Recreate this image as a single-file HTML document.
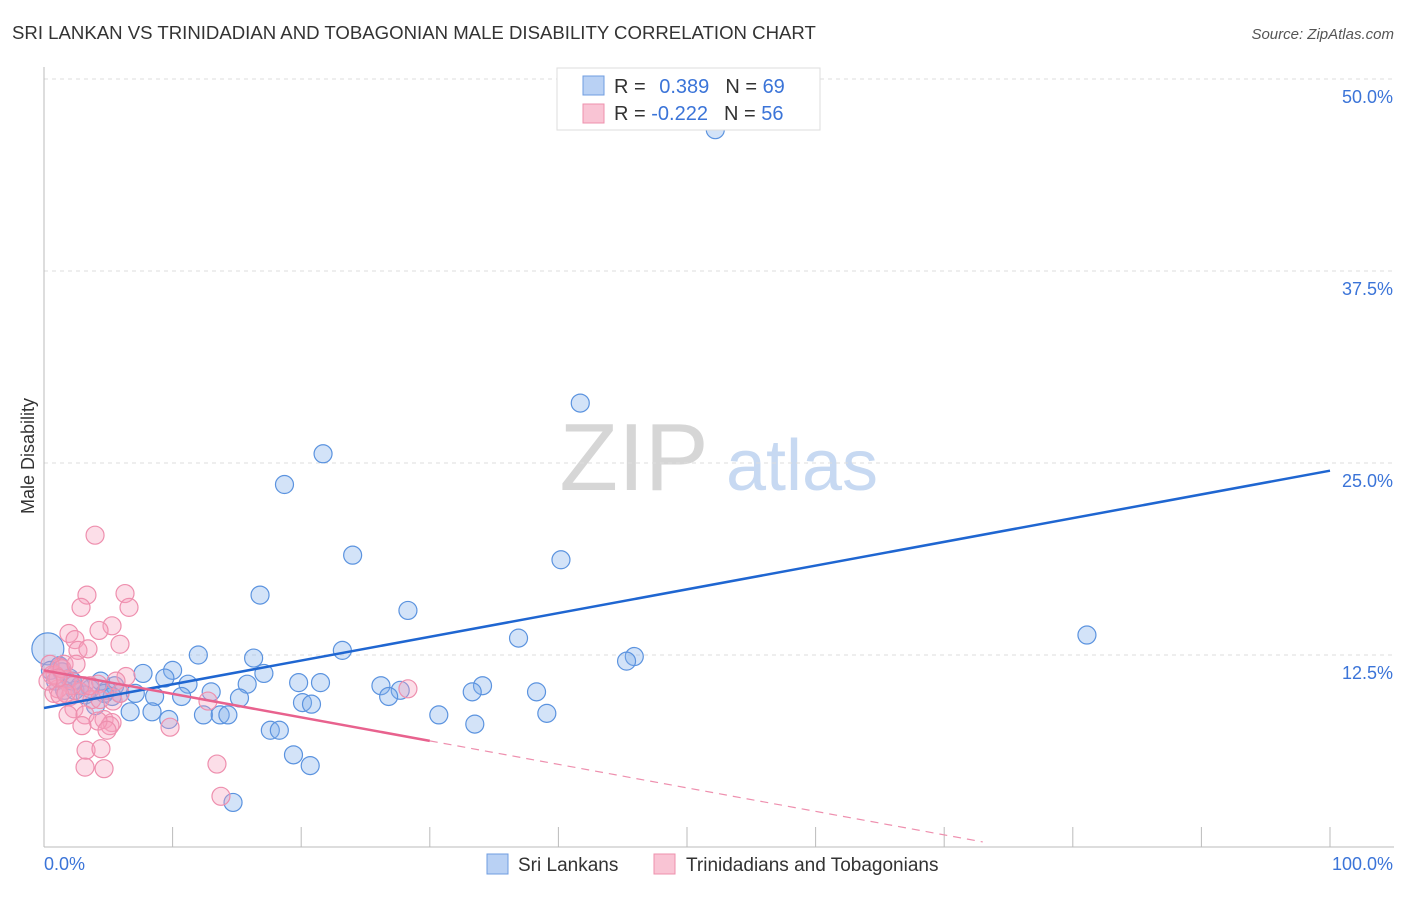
<!DOCTYPE html>
<html><head><meta charset="utf-8"><style>
body{margin:0;background:#fff;font-family:"Liberation Sans",sans-serif;}
svg text{font-family:"Liberation Sans",sans-serif;}
</style></head><body>
<svg id="chart" width="1406" height="892" viewBox="0 0 1406 892" xmlns="http://www.w3.org/2000/svg">
<text x="12" y="39" font-size="18.6" fill="#333">SRI LANKAN VS TRINIDADIAN AND TOBAGONIAN MALE DISABILITY CORRELATION CHART</text>
<text x="1394" y="39" font-size="15" fill="#555" font-style="italic" text-anchor="end">Source: ZipAtlas.com</text>
<g>
<text x="634" y="490" font-size="96" fill="#d6d6d6" text-anchor="middle" font-family="Liberation Serif, serif">ZIP</text>
<text x="802" y="490" font-size="72" fill="#c7d9f2" text-anchor="middle">atlas</text>
</g>
<g id="grid"></g>
<g id="axes"></g>
<g id="marks"></g>
<text transform="translate(34,456) rotate(-90)" font-size="18" fill="#333" text-anchor="middle">Male Disability</text>
<g>
<rect x="557" y="68" width="263" height="62" fill="#fff" stroke="#ddd"/>
<rect x="583" y="76" width="21" height="19" fill="#b9d1f4" stroke="#6f9de0"/>
<rect x="583" y="104" width="21" height="19" fill="#f9c4d4" stroke="#ee90ad"/>
<text x="614" y="93" font-size="20" fill="#333">R = <tspan fill="#3b74d8" dx="8">0.389</tspan><tspan fill="#333" dx="16">N = </tspan><tspan fill="#3b74d8">69</tspan></text>
<text x="614" y="120" font-size="20" fill="#333">R = <tspan fill="#3b74d8" dx="0">-0.222</tspan><tspan fill="#333" dx="16">N = </tspan><tspan fill="#3b74d8">56</tspan></text>
</g>
<g>
<rect x="487" y="854" width="21" height="20" fill="#b9d1f4" stroke="#6f9de0"/>
<text x="518" y="871" font-size="19" fill="#333">Sri Lankans</text>
<rect x="654" y="854" width="21" height="20" fill="#f9c4d4" stroke="#ee90ad"/>
<text x="686" y="871" font-size="19" fill="#333">Trinidadians and Tobagonians</text>
</g>
</svg>
<script>
const yTicks=[12.5,25,37.5,50];
const yTickLabels=["12.5%","25.0%","37.5%","50.0%"];
const xTicks=[0,10,20,30,40,50,60,70,80,90,100];
const blueX=[52.2,41.7,21.7,18.7,24.0,40.2,16.8,28.3,81.1,36.9,23.2,45.9,45.3,12.0,16.3,17.1,10.0,7.7,9.4,11.2,19.8,21.5,26.2,27.7,34.1,33.3,38.3,3.6,4.9,5.9,7.1,8.6,10.7,13.0,15.8,15.2,20.1,20.8,26.8,6.7,8.4,12.4,13.7,14.3,9.7,30.7,33.5,39.1,17.6,18.3,19.4,20.7,14.7,0.3,1.2,2.0,2.8,4.4,5.5,0.9,1.6,2.4,3.2,5.3,4.0,0.5,1.4,2.2,4.7];
const blueY=[46.7,28.9,25.6,23.6,19.0,18.7,16.4,15.4,13.8,13.6,12.8,12.4,12.1,12.5,12.3,11.3,11.5,11.3,11.0,10.6,10.7,10.7,10.5,10.2,10.5,10.1,10.1,10.3,10.2,10.0,10.0,9.8,9.8,10.1,10.6,9.7,9.4,9.3,9.8,8.8,8.8,8.6,8.6,8.6,8.3,8.6,8.0,8.7,7.6,7.6,6.0,5.3,2.9,12.9,11.8,11.0,10.5,10.8,10.5,10.8,10.2,10.2,9.9,9.8,9.2,11.5,11.4,10.8,10.0];
const pinkX=[3.97,3.34,6.30,2.88,6.61,5.29,1.94,4.28,2.41,2.64,3.42,5.91,1.56,1.24,0.62,1.71,3.11,6.38,5.60,4.20,2.02,2.80,2.18,1.09,0.78,3.73,5.37,12.75,28.3,2.33,1.87,3.19,4.67,5.29,5.13,9.8,4.2,2.95,4.9,3.27,4.43,3.19,4.67,13.45,13.76,0.86,0.47,1.40,2.49,3.58,4.35,1.24,5.91,1.71,1.09,0.31];
const pinkY=[20.3,16.4,16.5,15.6,15.6,14.4,13.9,14.1,13.5,12.8,12.9,13.2,11.9,11.7,11.2,10.9,10.5,11.1,10.8,10.6,9.8,10.1,10.5,10.3,10.0,9.6,9.5,9.5,10.3,9.0,8.6,8.6,8.3,8.1,7.9,7.8,8.2,7.9,7.6,6.3,6.4,5.2,5.1,5.4,3.3,11.2,11.9,11.6,11.9,10.5,9.6,9.9,10.0,10.0,11.0,10.8];
const blueTrend=[9.05,0.1545];
const pinkTrend=[11.5,-0.153];
const X0=44,X1=1330,Y0=847,YTOP=79;
const sx=v=>X0+(X1-X0)*v/100;
const sy=v=>Y0-(Y0-YTOP)*v/50;
const NS="http://www.w3.org/2000/svg";
function mk(tag,attrs,parent){const e=document.createElementNS(NS,tag);for(const k in attrs)e.setAttribute(k,attrs[k]);parent.appendChild(e);return e;}
const grid=document.getElementById('grid'),axes=document.getElementById('axes'),marks=document.getElementById('marks');
yTicks.forEach((t,i)=>{
 const l=mk('line',{x1:X0,x2:1394,y1:sy(t),y2:sy(t),stroke:'#ddd','stroke-dasharray':'4,4'},grid);
 
 
 const tx=mk('text',{x:1393,y:sy(t)+24,'font-size':18,fill:'#3b74d8','text-anchor':'end'},axes);
 tx.textContent=yTickLabels[i];
 
 
});
const ya=mk('line',{x1:X0,x2:X0,y1:67,y2:Y0,stroke:'#bbb'},axes);


const xa=mk('line',{x1:X0,x2:1394,y1:Y0,y2:Y0,stroke:'#bbb'},axes);


xTicks.forEach(t=>{
 const l=mk('line',{x1:sx(t),x2:sx(t),y1:Y0,y2:Y0-20,stroke:'#bbb'},axes);
 
 
});
const xl0=mk('text',{x:44,y:870,'font-size':18,fill:'#3b74d8'},axes);xl0.textContent='0.0%';


const xl1=mk('text',{x:1393,y:870,'font-size':18,fill:'#3b74d8','text-anchor':'end'},axes);xl1.textContent='100.0%';


blueX.forEach((x,i)=>{
 const c=mk('circle',{cx:sx(x),cy:sy(blueY[i]),r:(i==53?16:9),fill:'rgba(130,175,235,0.35)',stroke:'#5b93df','stroke-width':1.2},marks);
 
 
});
pinkX.forEach((x,i)=>{
 const c=mk('circle',{cx:sx(x),cy:sy(pinkY[i]),r:9,fill:'rgba(245,160,190,0.35)',stroke:'#ee8fae','stroke-width':1.2},marks);
 
 
});
const bl=mk('line',{x1:sx(0),y1:sy(blueTrend[0]),x2:sx(100),y2:sy(blueTrend[0]+blueTrend[1]*100),stroke:'#1f66d1','stroke-width':2.5},marks);


const pl=mk('line',{x1:sx(0),y1:sy(pinkTrend[0]),x2:sx(30),y2:sy(pinkTrend[0]+pinkTrend[1]*30),stroke:'#e8628e','stroke-width':2.5},marks);


const xEnd=73;
const pd=mk('line',{x1:sx(30),y1:sy(pinkTrend[0]+pinkTrend[1]*30),x2:sx(xEnd),y2:sy(pinkTrend[0]+pinkTrend[1]*xEnd),stroke:'#ee8fae','stroke-width':1.2,'stroke-dasharray':'8,6'},marks);


</script>
</body></html>
